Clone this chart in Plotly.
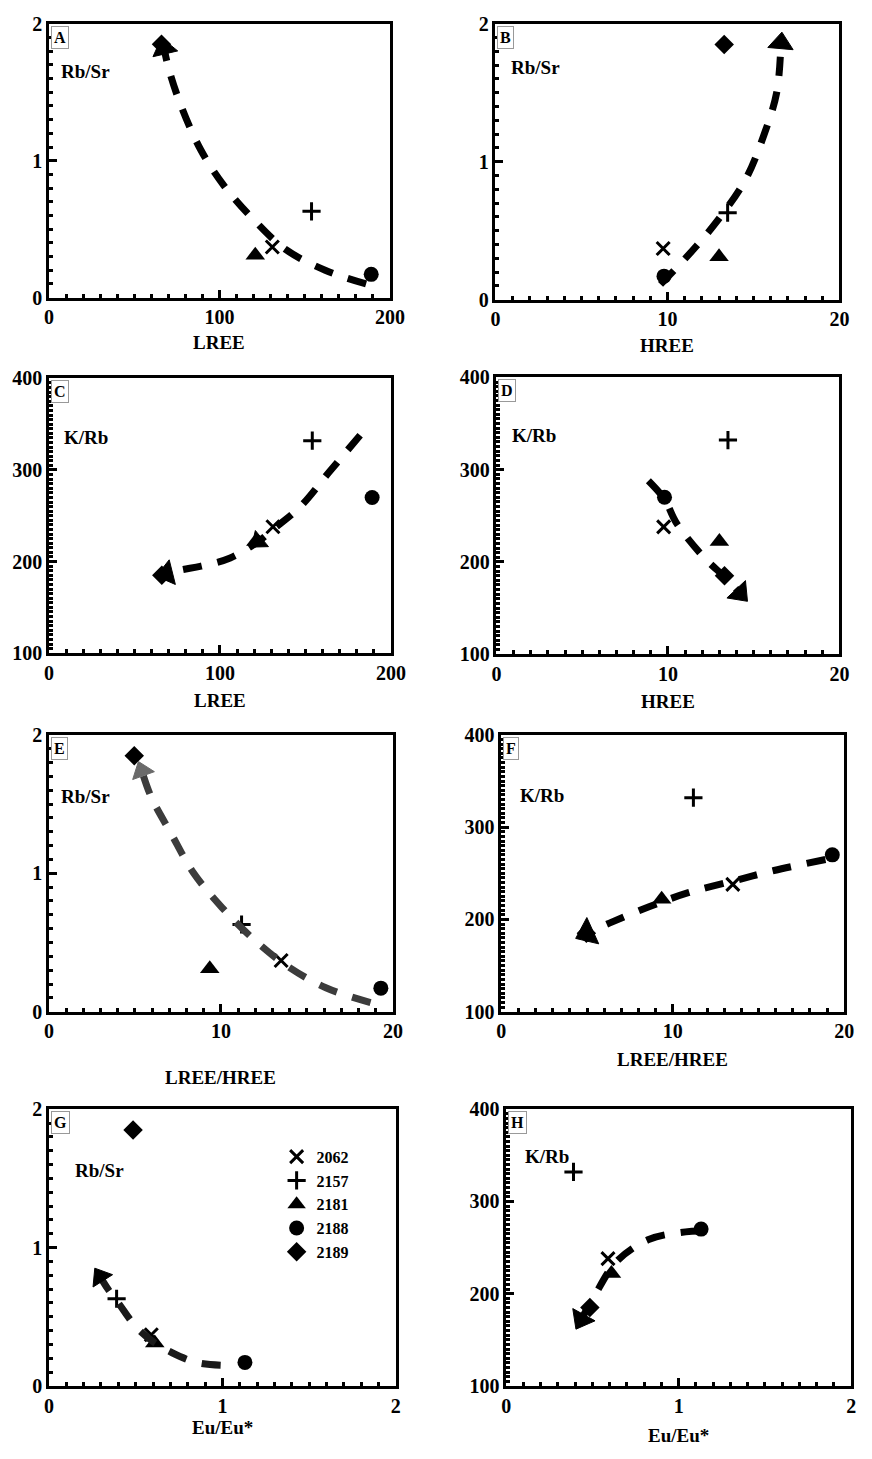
import plotly.graph_objects as go

W, H = 872, 1459

# ---- sample data ----
samples = ["2062", "2157", "2181", "2188", "2189"]
symbols = ["x-thin", "cross-thin", "triangle-up", "circle", "diamond"]
lree = [131, 154, 121, 189, 66]
hree = [9.75, 13.5, 13.0, 9.8, 13.3]
rb_sr = [0.37, 0.63, 0.31, 0.17, 1.85]
k_rb = [238, 332, 222, 270, 185]
lree_hree = [13.5, 11.2, 9.35, 19.3, 4.96]
eu_eu = [0.59, 0.39, 0.61, 1.13, 0.485]

# ---- trend curves (dashed); arrow heads sit on the marked points ----
trendA_x = [186, 162, 139, 120, 102.5, 89, 77.5, 70.5, 67.5]
trendA_y = [0.10, 0.20, 0.35, 0.57, 0.82, 1.08, 1.40, 1.66, 1.82]
trendB_x = [9.6, 11.7, 13.2, 14.6, 15.6, 16.35, 16.6]
trendB_y = [0.11, 0.39, 0.62, 0.885, 1.19, 1.50, 1.86]
trendC_x = [182, 164, 147, 131, 122.5, 106, 89, 77.5, 69]
trendC_y = [338, 298, 260, 235, 222, 204, 195, 191, 187]
trendD_x = [8.86, 9.8, 10.5, 12.1, 13.4, 14.2]
trendD_y = [288, 268, 242, 205, 182, 166]
trendE_x = [18.7, 16.1, 13.75, 11.85, 10.05, 8.4, 7.1, 5.95, 5.4]
trendE_y = [0.066, 0.173, 0.339, 0.529, 0.754, 1.004, 1.288, 1.55, 1.74]
trendF_x = [18.9, 15.9, 13.6, 10.9, 8.65, 6.3, 5.0]
trendF_y = [265, 253, 242, 229, 214, 196, 185]
trendG_x = [0.99, 0.85, 0.71, 0.60, 0.50, 0.40, 0.34, 0.295]
trendG_y = [0.15, 0.17, 0.24, 0.32, 0.43, 0.60, 0.70, 0.79]
trendH_x = [1.12, 1.04, 0.83, 0.64, 0.51, 0.47, 0.435]
trendH_y = [268, 267, 259, 235, 197, 184, 172]

FONT = "Liberation Serif"

# panel boxes in pixels: (left, right, top, bottom)
boxes = {
    "A": (45, 394, 13, 291), "B": (502, 854, 13, 293),
    "C": (45, 395, 373, 652), "D": (503, 854, 372, 653),
    "E": (45, 397, 735, 1016), "F": (508, 859, 735, 1016),
    "G": (45, 400, 1115, 1396), "H": (513, 866, 1115, 1396),
}

panels = [
    ("A", lree, rb_sr, [0, 200], 100, 10, "Rb/Sr", [0, 2], 1, 0.1, (trendA_x, trendA_y), [(8, 22)], "LREE", 337, (0.03, 0.826), "black"),
    ("B", hree, rb_sr, [0, 20], 10, 1, "Rb/Sr", [0, 2], 1, 0.1, (trendB_x, trendB_y), [(6, 22)], "HREE", 340, (0.04, 0.84), "black"),
    ("C", lree, k_rb, [0, 200], 100, 10, "K/Rb", [100, 400], 100, 5, (trendC_x, trendC_y), [(4, 18), (8, 22)], "LREE", 700, (0.037, 0.785), "black"),
    ("D", hree, k_rb, [0, 20], 10, 1, "K/Rb", [100, 400], 100, 5, (trendD_x, trendD_y), [(5, 22)], "HREE", 701, (0.04, 0.79), "black"),
    ("E", lree_hree, rb_sr, [0, 20], 10, 1, "Rb/Sr", [0, 2], 1, 0.1, (trendE_x, trendE_y), [(8, 20)], "LREE/HREE", 1083, (0.03, 0.776), "#3c3c3c"),
    ("F", lree_hree, k_rb, [0, 20], 10, 1, "K/Rb", [100, 400], 100, 5, (trendF_x, trendF_y), [(6, 25)], "LREE/HREE", 1065, (0.05, 0.78), "black"),
    ("G", eu_eu, rb_sr, [0, 2], 1, 0.1, "Rb/Sr", [0, 2], 1, 0.1, (trendG_x, trendG_y), [(7, 20)], "Eu/Eu*", 1438, (0.068, 0.78), "#1a1a1a"),
    ("H", eu_eu, k_rb, [0, 2], 1, 0.1, "K/Rb", [100, 400], 100, 5, (trendH_x, trendH_y), [(6, 22)], "Eu/Eu*", 1446, (0.048, 0.83), "black"),
]

fig = go.Figure()
annotations = []
layout = {}

for i, (letter, xd, yd, xr, xdt, xmi, yname, yr, ydt, ymi, trend, arrows, xtitle, ty, lpos, lcol) in enumerate(panels):
    n = "" if i == 0 else str(i + 1)
    xa, ya = "x" + n, "y" + n
    l, r, t, b = boxes[letter]
    common = dict(
        showline=True, linewidth=2.5, linecolor="black", mirror=True,
        ticks="inside", ticklen=8, tickwidth=2.5, tickcolor="black",
        showgrid=False, zeroline=False, layer="above traces",
        tickfont=dict(family=FONT, size=20, color="black", weight="bold"),
    )
    layout["xaxis" + n] = dict(
        domain=[l / W, r / W], range=xr, dtick=xdt, tick0=0, anchor=ya,
        minor=dict(ticks="inside", ticklen=4, tickwidth=2.5, dtick=xmi, tick0=0,
                   tickcolor="black", showgrid=False),
        **common)
    layout["yaxis" + n] = dict(
        domain=[1 - b / H, 1 - t / H], range=yr, dtick=ydt, tick0=0, anchor=xa,
        minor=dict(ticks="inside", ticklen=4, tickwidth=2.5, dtick=ymi, tick0=0,
                   tickcolor="black", showgrid=False),
        **common)

    # samples
    for s, sym, xv, yv in zip(samples, symbols, xd, yd):
        thin = sym.endswith("thin")
        fig.add_trace(go.Scatter(
            x=[xv], y=[yv], mode="markers", name=s, legendgroup=s,
            showlegend=(i == 0), xaxis=xa, yaxis=ya,
            marker=dict(symbol=sym, size=13 if thin else (17 if sym == "triangle-up" else 15),
                        color="black", line=dict(width=3 if thin else 0, color="black")),
        ))

    # trend line
    tx, ty_ = trend
    fig.add_trace(go.Scatter(
        x=tx, y=ty_, mode="lines", xaxis=xa, yaxis=ya, showlegend=False,
        line=dict(color=lcol, width=7, dash="19px,16px", shape="spline"),
    ))
    acol = "#6a6a6a" if letter == "E" else "black"
    for k, sz in arrows:
        fig.add_trace(go.Scatter(
            x=[tx[k - 1], tx[k]], y=[ty_[k - 1], ty_[k]], mode="markers",
            xaxis=xa, yaxis=ya, showlegend=False, opacity=1,
            marker=dict(symbol="triangle-up", size=[0, sz], opacity=1,
                        angleref="previous", color=[acol, acol],
                        line=dict(width=1, color=acol)),
        ))

    # panel letter
    annotations.append(dict(
        text=letter, xref=xa + " domain", yref=ya + " domain", x=0, y=1,
        xanchor="left", yanchor="top", xshift=2, yshift=-2, showarrow=False,
        font=dict(family=FONT, size=16, color="black", weight="bold"),
        bordercolor="#999", borderwidth=1, borderpad=2, bgcolor="white"))
    # y variable label
    annotations.append(dict(
        text=yname, xref=xa + " domain", yref=ya + " domain", x=lpos[0], y=lpos[1],
        xanchor="left", yanchor="middle", showarrow=False,
        font=dict(family=FONT, size=19, color="black", weight="bold")))
    # x title
    annotations.append(dict(
        text=xtitle, xref=xa + " domain", yref="paper", x=0.5, y=1 - ty / H,
        xanchor="center", yanchor="middle", showarrow=False,
        font=dict(family=FONT, size=19, color="black", weight="bold")))

fig.update_layout(
    width=W, height=H, margin=dict(l=0, r=0, t=0, b=0),
    paper_bgcolor="white", plot_bgcolor="white",
    annotations=annotations,
    legend=dict(x=278 / W, y=1 - 1146 / H, xanchor="left", yanchor="top",
                bgcolor="rgba(0,0,0,0)", borderwidth=0,
                font=dict(family=FONT, size=16, color="black", weight="bold"),
                itemwidth=30, tracegroupgap=0),
    **layout,
)

fig.write_html("out.html")
